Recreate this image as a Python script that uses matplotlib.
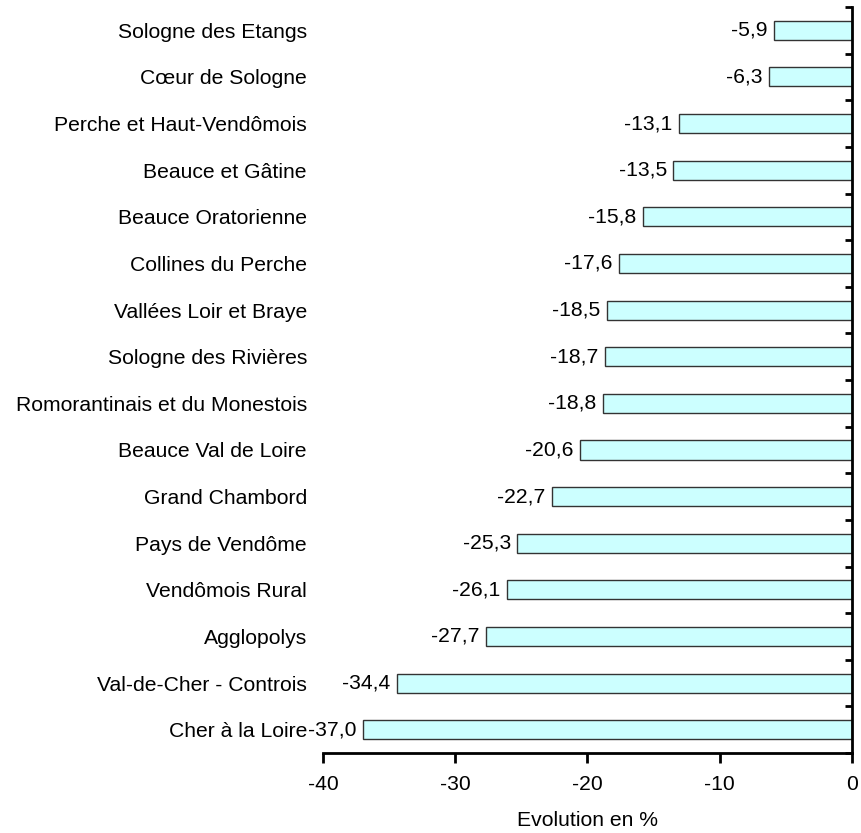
import numpy as np
import matplotlib.pyplot as plt

plt.rcParams['font.family'] = ['Liberation Sans', 'DejaVu Sans']

territoires = ["Sologne des Etangs", "Cœur de Sologne", "Perche et Haut-Vendômois",
               "Beauce et Gâtine", "Beauce Oratorienne", "Collines du Perche",
               "Vallées Loir et Braye", "Sologne des Rivières",
               "Romorantinais et du Monestois", "Beauce Val de Loire",
               "Grand Chambord", "Pays de Vendôme", "Vendômois Rural",
               "Agglopolys", "Val-de-Cher - Controis", "Cher à la Loire"]
evolution = [-5.9, -6.3, -13.1, -13.5, -15.8, -17.6, -18.5, -18.7,
             -18.8, -20.6, -22.7, -25.3, -26.1, -27.7, -34.4, -37.0]

fs = 15.2

fig = plt.figure(figsize=(8.61, 8.33), dpi=100)
ax = fig.add_axes([0.3751, 0.0960, 0.6144, 0.8956])

n = len(territoires)
y = np.arange(n)[::-1]
ax.barh(y, evolution, height=0.41, color="#CCFFFF", edgecolor="#333333", linewidth=1.0)

for yi, v in zip(y, evolution):
    ax.text(v - 0.5, yi, f"{v:.1f}".replace(".", ","), ha="right", va="center", fontsize=fs)

ax.set_xlim(-40, 0)
ax.set_ylim(-0.5, n - 0.5)
ax.set_xticks([-40, -30, -20, -10, 0])
ax.set_xticklabels(["-40", "-30", "-20", "-10", "0"], fontsize=fs)
ax.set_yticks(y)
ax.set_yticklabels(territoires, fontsize=fs)
ax.set_yticks(np.arange(n + 1) - 0.5, minor=True)

ax.spines["left"].set_visible(False)
ax.spines["top"].set_visible(False)
ax.spines["right"].set_linewidth(2)
ax.spines["bottom"].set_linewidth(2)

ax.tick_params(axis="y", which="major", length=0, pad=11.5,
               left=False, right=False, labelleft=True, labelright=False)
ax.tick_params(axis="y", which="minor", length=5, width=2, direction="in",
               left=False, right=True)
ax.tick_params(axis="x", length=7, width=2, direction="out", pad=9)

ax.set_xlabel("Evolution en %", fontsize=fs, labelpad=12)

fig.savefig("out.png", dpi=100)
